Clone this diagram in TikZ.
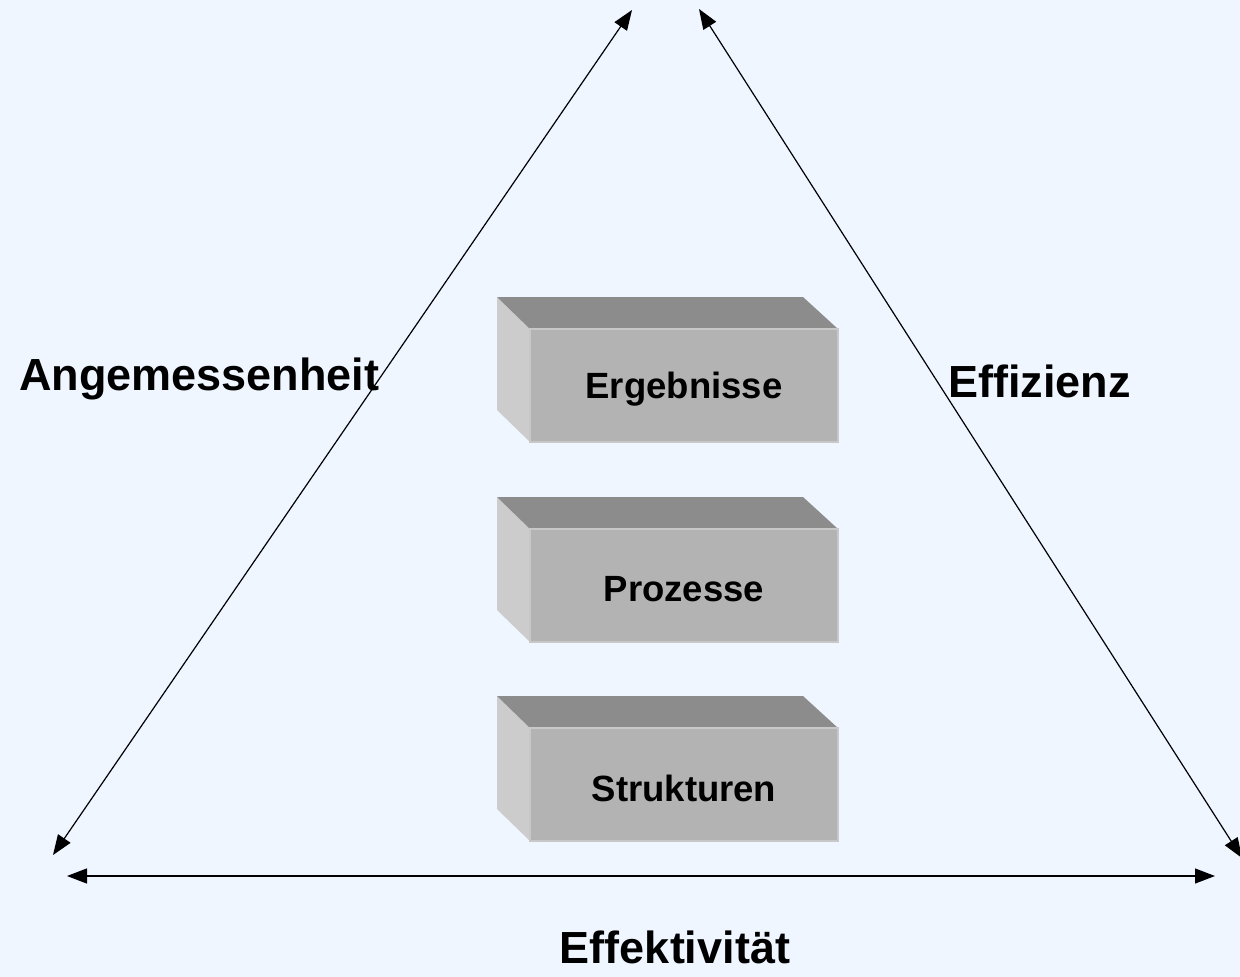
\documentclass[tikz,border=0pt]{standalone}
\usepackage{fontspec}
\setmainfont{Liberation Sans}
\usetikzlibrary{arrows.meta}
\definecolor{bgc}{RGB}{239,246,255}
\definecolor{frontc}{RGB}{179,179,179}
\definecolor{topc}{RGB}{140,140,140}
\definecolor{sidec}{RGB}{204,204,204}
\definecolor{edgec}{RGB}{200,200,200}
\tikzset{
  twoway/.style={black, line width=1.2pt, {Triangle[length=20pt,width=15pt]}-{Triangle[length=20pt,width=15pt]}},
  bigLabel/.style={font=\bfseries\fontsize{45}{52}\selectfont, inner sep=0pt},
  frontface/.style={fill=frontc, draw=edgec, line width=1.2pt, minimum width=308pt, minimum height=113pt, inner sep=0pt},
  boxtext/.style={inner sep=0pt, font=\bfseries\fontsize{36.5}{42}\selectfont},
}
\begin{document}
\begin{tikzpicture}[x=1pt,y=-1pt]
\fill[bgc] (0,0) rectangle (1240,977);
\useasboundingbox (0,0) rectangle (1240,977);
% boxes
\foreach \dy/\nm/\txt in {0/erg/Ergebnisse, 200/proz/Prozesse, 399/struk/Strukturen}{
  \fill[sidec] (497,297+\dy) -- (530,329+\dy) -- (530,442+\dy) -- (497,410+\dy) -- cycle;
  \fill[topc] (497,297+\dy) -- (803,297+\dy) -- (838,329+\dy) -- (530,329+\dy) -- cycle;
  \node[frontface] (\nm) at (684,385.5+\dy) {};
  \node[boxtext] (\nm-t) at ([yshift=-4pt]\nm.center) {\txt};
}
% arrows
\coordinate (top1) at (632,10);
\coordinate (bl) at (53,855);
\coordinate (top2) at (699,9);
\coordinate (br) at (1242,858);
\coordinate (bot1) at (67,876);
\coordinate (bot2) at (1215,876);
\draw[twoway] (top1) -- (bl);
\draw[twoway] (top2) -- (br);
\draw[twoway] (bot1) -- (bot2);
% labels
\node[bigLabel, anchor=west] (ang) at (19,379) {Angemessenheit};
\node[bigLabel, anchor=west] (eff) at (948,381) {Effizienz};
\node[bigLabel] (effk) at (675,947) {Effektivität};
\end{tikzpicture}
\end{document}
